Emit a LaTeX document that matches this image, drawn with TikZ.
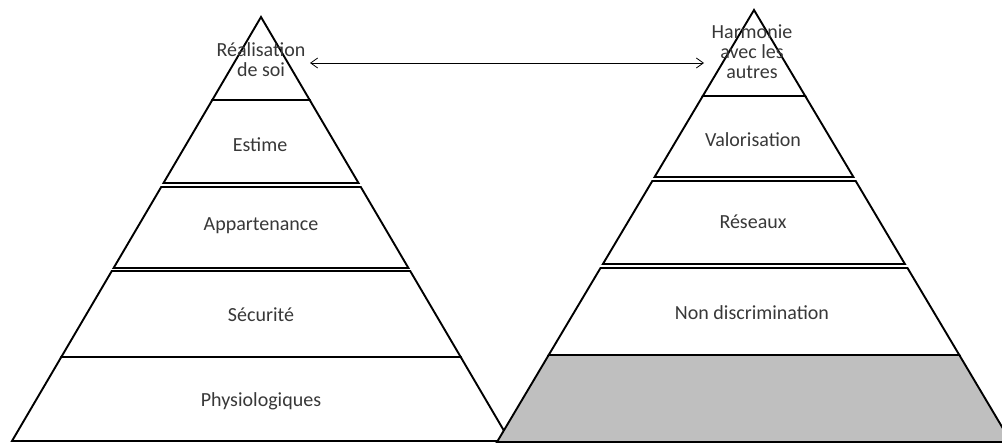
\documentclass[tikz,border=0pt]{standalone}
\usepackage{fontspec}
\setmainfont{Carlito}
\usetikzlibrary{arrows.meta}
\begin{document}
\begin{tikzpicture}[x=1pt,y=-1pt,
  slab/.style={draw=black,line width=1.9pt,line join=miter,fill=white},
  greyslab/.style={slab,fill=black!25},
  lbl/.style={text=black!78,font=\fontsize{20}{20}\selectfont,align=center,inner sep=0pt},
  link/.style={line width=0.8pt,{Straight Barb[length=7pt,width=10pt]}-{Straight Barb[length=7pt,width=10pt]}}]
\useasboundingbox (0,0) rectangle (1002,444);
\clip (0,0) rectangle (1002,444);

% left pyramid, apex (261,17)
\draw[slab] (261,17) -- (309.7,100) -- (212.3,100) -- cycle;
\draw[slab] (212.3,100) -- (309.7,100) -- (358.5,183) -- (163.5,183) -- cycle;
\draw[slab] (161.2,187) -- (360.8,187) -- (408.4,268) -- (113.6,268) -- cycle;
\draw[slab] (111.8,271) -- (410.2,271) -- (460.7,357) -- (61.3,357) -- cycle;
\draw[slab] (61.3,357) -- (460.7,357) -- (510,441) -- (12,441) -- cycle;

% right pyramid, apex (754,10)
\draw[slab] (754,10) -- (805.2,96) -- (702.8,96) -- cycle;
\draw[slab] (702.8,96) -- (805.2,96) -- (853.4,177) -- (654.6,177) -- cycle;
\draw[slab] (652.3,181) -- (855.7,181) -- (904.9,264) -- (602.9,264) -- cycle;
\draw[slab] (600.5,268) -- (907.5,268) -- (959.3,355) -- (548.7,355) -- cycle;
\draw[greyslab] (548.7,355) -- (959.3,355) -- (1011,442) -- (497,442) -- cycle;

% labels, left pyramid
\node[lbl] (real) at (261,60) {Réalisation\\de soi};
\node[lbl] (est)  at (260,145) {Estime};
\node[lbl] (app)  at (261,226) {Appartenance};
\node[lbl] (secu) at (261,315) {Sécurité};
\node[lbl] (phys) at (261,401) {Physiologiques};

% labels, right pyramid
\node[lbl] (harm) at (752,52) {Harmonie\\avec les\\autres};
\node[lbl] (valo) at (753,140) {Valorisation};
\node[lbl] (res)  at (753,222) {Réseaux};
\node[lbl] (nond) at (752,313) {Non discrimination};

% link between the two summits
\coordinate (linkL) at (310,63);
\coordinate (linkR) at (704,63);
\draw[link] (linkL) -- (linkR);
\end{tikzpicture}
\end{document}
